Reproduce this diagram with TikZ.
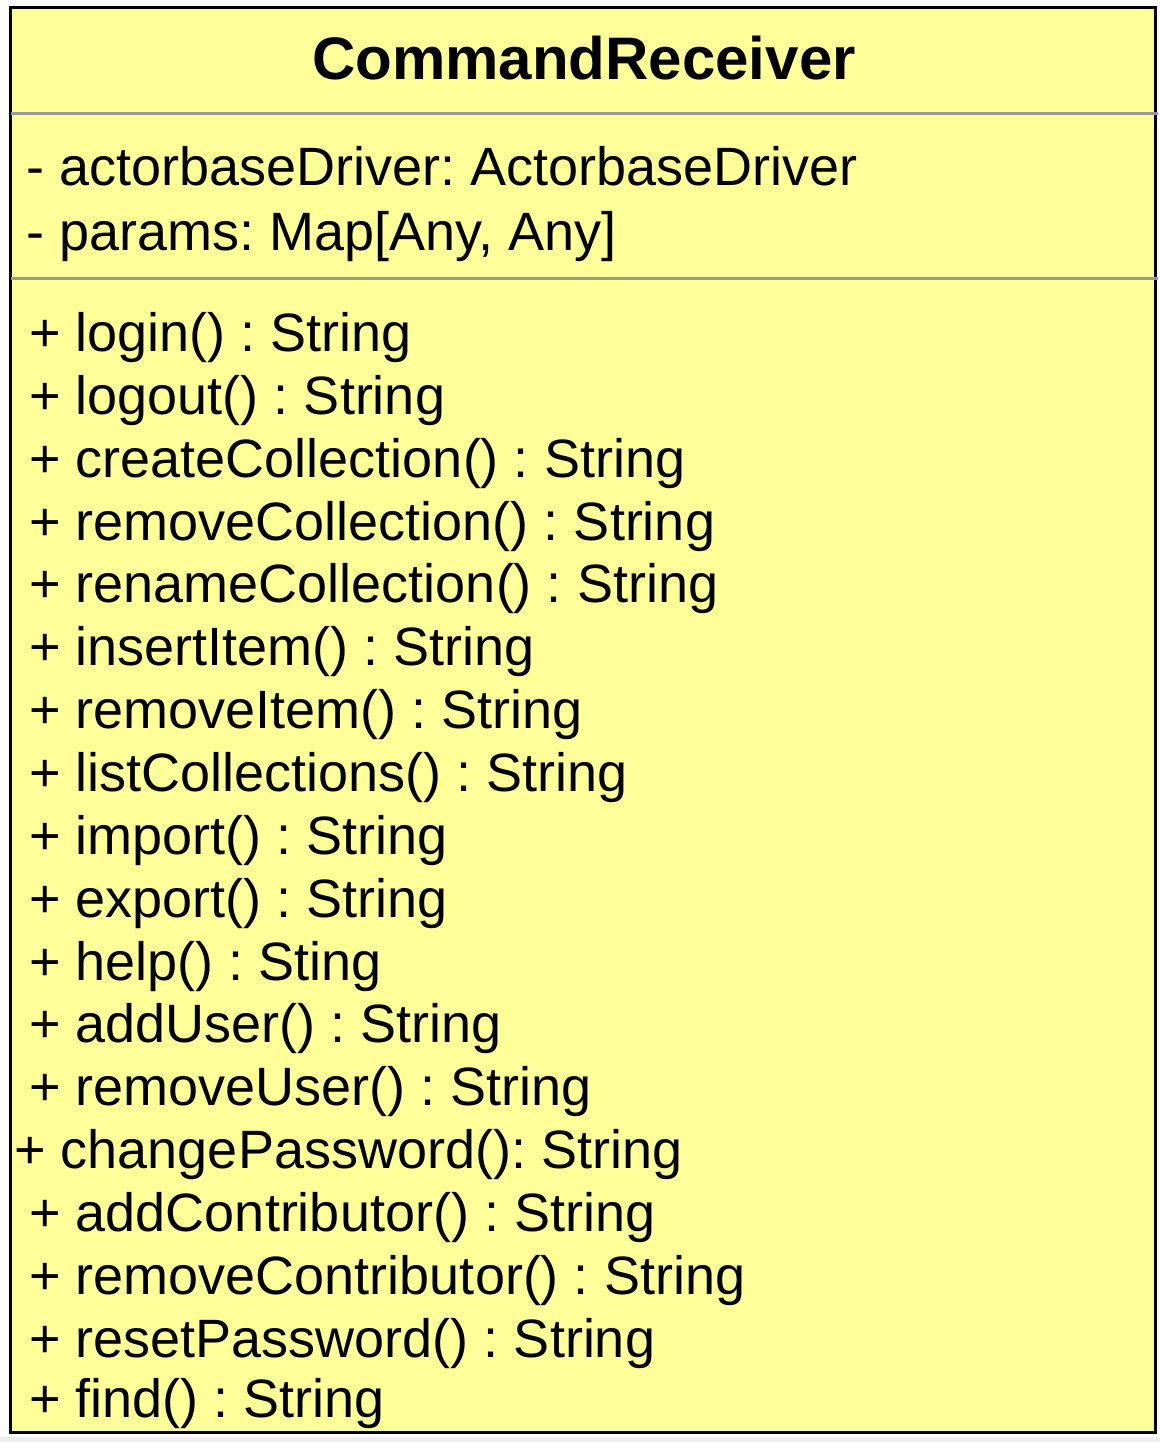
\documentclass[tikz,border=0pt]{standalone}
\usepackage{fontspec}
\setmainfont{Liberation Sans}
\usepackage{tikz}
\frenchspacing
\definecolor{classfill}{HTML}{FFFF99}
\definecolor{sepgray}{HTML}{999999}
\definecolor{stripgray}{HTML}{EEEEEE}
\tikzset{
  member/.style={anchor=base west, inner sep=0pt, font=\fontsize{27}{31}\selectfont},
  classname/.style={anchor=base, inner sep=0pt, font=\fontsize{30}{36}\selectfont\bfseries}
}

\begin{document}
\begin{tikzpicture}[x=0.5pt,y=-0.5pt]
    \useasboundingbox (0,0) rectangle (1160,1442);
    \fill[white] (0,0) rectangle (1160,1442);
    \fill[stripgray] (0,1437) rectangle (1160,1442);
    \draw[line width=1.5pt, fill=classfill] (10,7) rectangle (1155,1432);
    \draw[sepgray, line width=1.5pt] (11,113) -- (1158,113);
    \draw[sepgray, line width=1.5pt] (11,278) -- (1158,278);
    \node[classname] (name) at (584,79) {CommandReceiver};
    % attributes
    \node[member] (driver) at (26,185) {- actorbaseDriver: ActorbaseDriver};
    \node[member] (params) at (26,250) {- params: Map[Any, Any]};
    % operations
    \node[member] (login) at (29,351) {+ login() : String};
    \node[member] (logout) at (29,414) {+ logout() : String};
    \node[member] (createcoll) at (29,477) {+ createCollection() : String};
    \node[member] (removecoll) at (29,540) {+ removeCollection() : String};
    \node[member] (renamecoll) at (29,602) {+ renameCollection() : String};
    \node[member] (insertitem) at (29,665) {+ insertItem() : String};
    \node[member] (removeitem) at (29,728) {+ removeItem() : String};
    \node[member] (listcoll) at (29,791) {+ listCollections() : String};
    \node[member] (import) at (29,854) {+ import() : String};
    \node[member] (export) at (29,917) {+ export() : String};
    \node[member] (help) at (29,980) {+ help() : Sting};
    \node[member] (adduser) at (29,1042) {+ addUser() : String};
    \node[member] (removeuser) at (29,1105) {+ removeUser() : String};
    \node[member] (changepw) at (14,1168) {+ changePassword(): String};
    \node[member] (addcontrib) at (29,1231) {+ addContributor() : String};
    \node[member] (removecontrib) at (29,1294) {+ removeContributor() : String};
    \node[member] (resetpw) at (29,1357) {+ resetPassword() : String};
    \node[member] (find) at (29,1417) {+ find() : String};
\end{tikzpicture}
\end{document}
